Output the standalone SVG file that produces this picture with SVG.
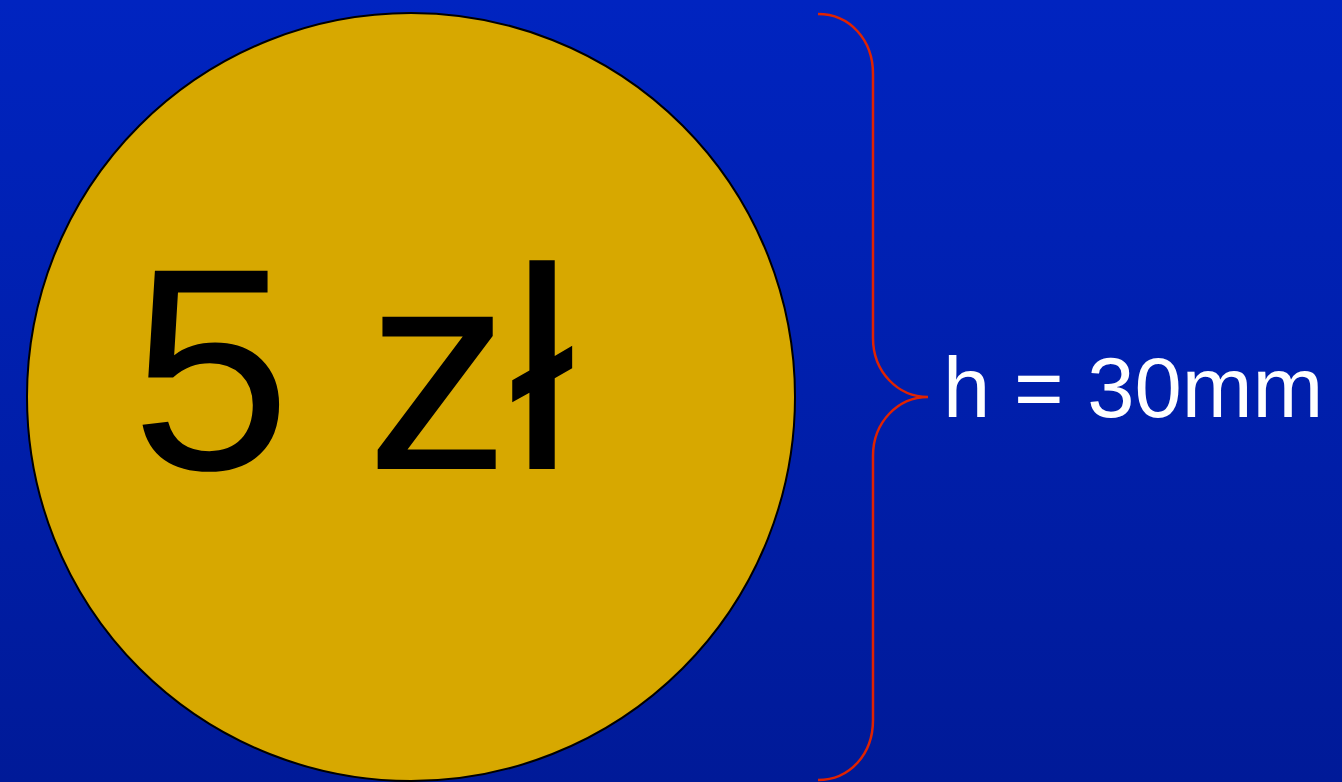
<svg xmlns="http://www.w3.org/2000/svg" width="1342" height="782" viewBox="0 0 1342 782">
<defs>
<linearGradient id="bg" x1="0" y1="0" x2="0" y2="1">
<stop offset="0" stop-color="#0024c0"/>
<stop offset="1" stop-color="#001a98"/>
</linearGradient>
<style>
.coin{fill:#d7a800;stroke:#000;stroke-width:2}
.brace{fill:none;stroke:#e02200;stroke-width:2.5}
.big{font-family:"Liberation Sans",Arial,sans-serif;font-size:288px;fill:#000}
.lbl{font-family:"Liberation Sans",Arial,sans-serif;font-size:85px;fill:#fff}
</style>
</defs>
<rect x="0" y="0" width="1342" height="782" fill="url(#bg)"/>
<g id="coin">
<circle class="coin" cx="411" cy="397" r="384"/>
<text class="big" x="131" y="469">5 <tspan x="366">zł</tspan></text>
</g>
<g id="connectors">
<path class="brace" d="M818,14 C850,14 873,40 873,74 L873,338 C873,372 898,397 928,397 C898,397 873,422 873,456 L873,720 C873,754 850,780 818,780"/>
</g>
<g id="label">
<text class="lbl" x="943" y="417">h = 30mm</text>
</g>
</svg>
